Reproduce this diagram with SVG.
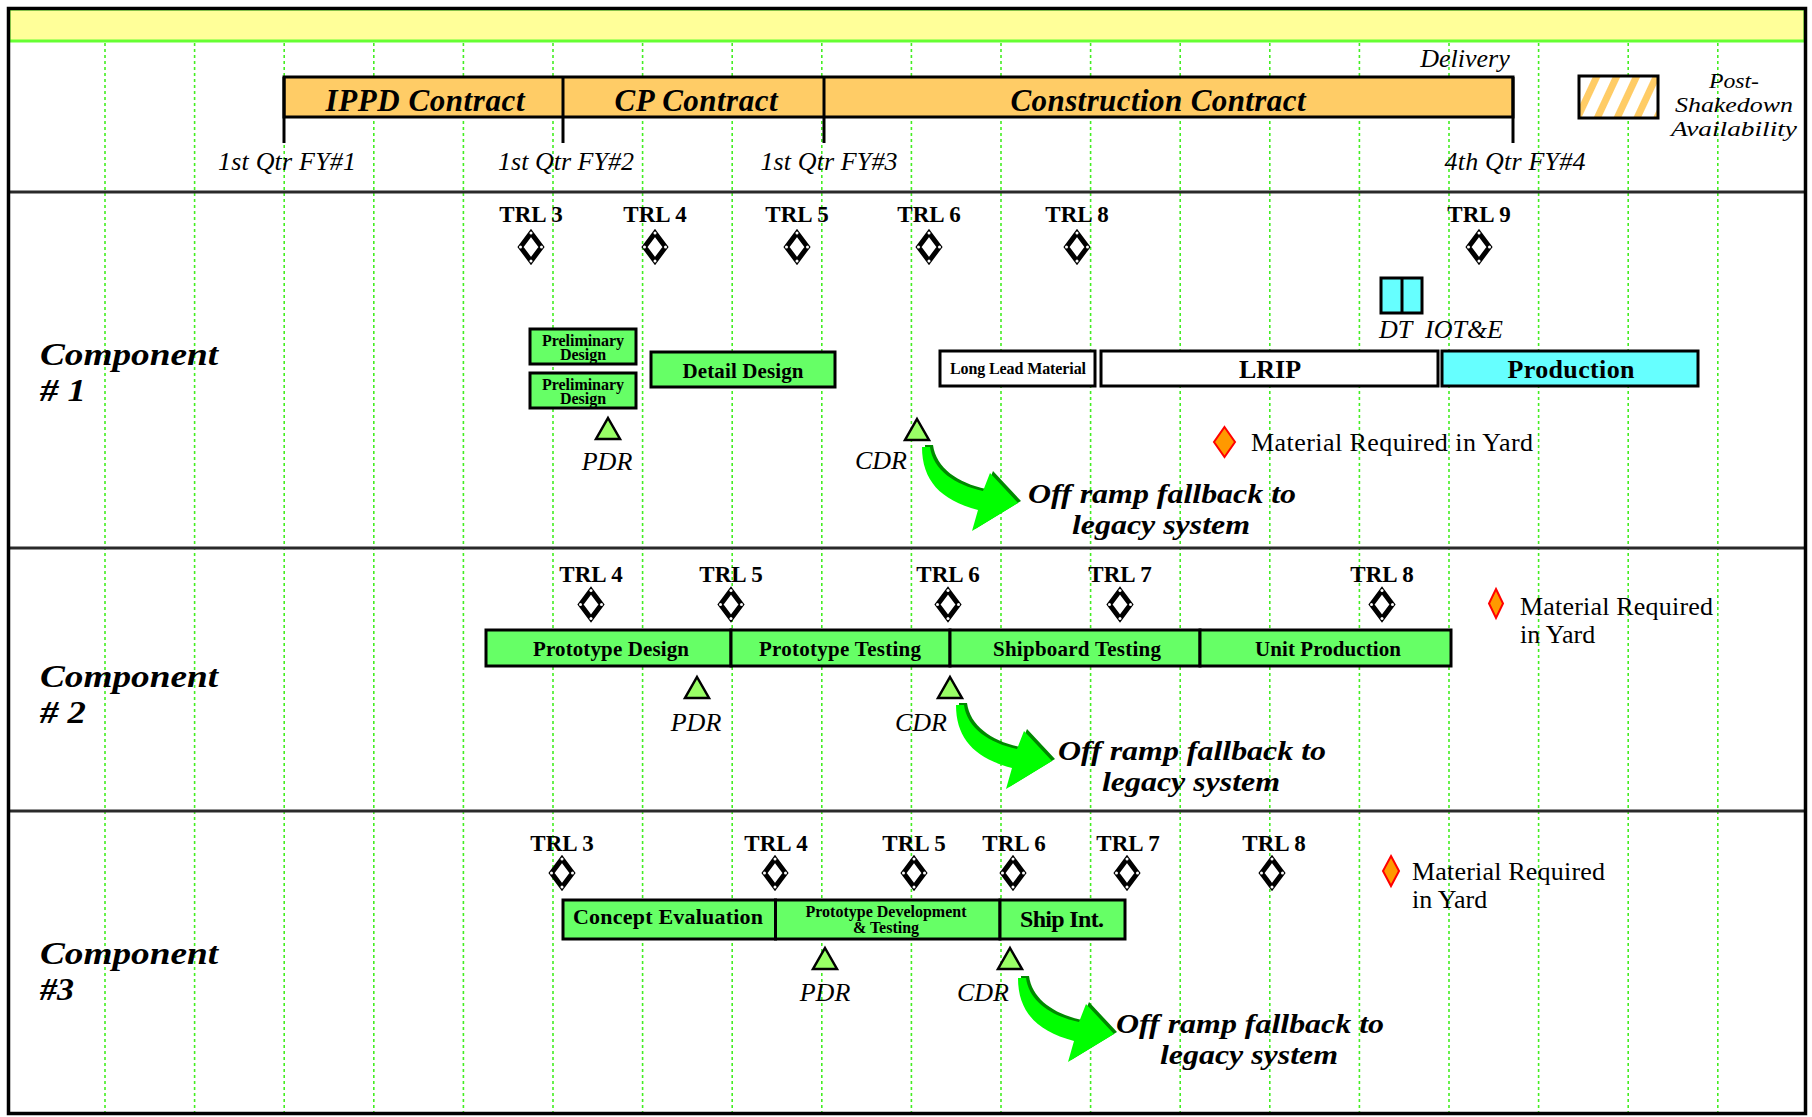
<svg xmlns="http://www.w3.org/2000/svg" xmlns:xlink="http://www.w3.org/1999/xlink" width="1812" height="1117" viewBox="0 0 1812 1117">
<style>
text{font-family:"Liberation Serif","Times New Roman",serif;fill:#000}
.grid{stroke:#44EE22;stroke-width:1.6;stroke-dasharray:3 3}
.div{stroke:#2a2a2a;stroke-width:3}
.tick{stroke:#000;stroke-width:3}
.con{font-weight:bold;font-style:italic;font-size:31px;text-anchor:middle}
.date{font-style:italic;font-size:26px;text-anchor:middle}
.comp{font-weight:bold;font-style:italic;font-size:32.5px}
.trl{font-weight:bold;font-size:23px;text-anchor:middle}
.rev{font-style:italic;font-size:26px;text-anchor:middle}
.off{font-weight:bold;font-style:italic;font-size:28px;text-anchor:middle}
.mat{font-size:26px}
.box{stroke:#000;stroke-width:3}
.g{fill:#66FF66}
.w{fill:#fff}
.c{fill:#66FFFF}
.bt{font-weight:bold;text-anchor:middle}
.tri{fill:#99FF66;stroke:#000;stroke-width:2.5;stroke-linejoin:miter}
.md{fill:#FF9900;stroke:#FF0000;stroke-width:2}
.leg{font-style:italic;font-size:22px;text-anchor:middle}
</style>
<defs>
<g id="dia">
<polygon points="0,-14 10.5,0 0,14 -10.5,0" fill="#fff" stroke="#000" stroke-width="5"/>
<circle cx="0" cy="-14" r="1.5" fill="#fff"/>
<circle cx="10.5" cy="0" r="1.5" fill="#fff"/>
<circle cx="0" cy="14" r="1.5" fill="#fff"/>
<circle cx="-10.5" cy="0" r="1.5" fill="#fff"/>
</g>
<polygon id="tri" class="tri" points="0,0 12,21 -12,21"/>
<path id="arrowShape" d="M 0,0 C 0,33 18,53 56,63 L 50,84 L 96,56 L 68,26 L 61,44 C 33,38 11,23 8,0 Z"/>
<g id="arrow">
<use xlink:href="#arrowShape" href="#arrowShape" transform="translate(3,-2)" fill="#008800"/>
<use xlink:href="#arrowShape" href="#arrowShape" fill="#00FF00"/>
</g>
<pattern id="hatch" patternUnits="userSpaceOnUse" width="18" height="18" patternTransform="rotate(25)">
<rect width="18" height="18" fill="#fff"/>
<rect width="7" height="18" fill="#FFCC66"/>
</pattern>
</defs>

<rect x="0" y="0" width="1812" height="1117" fill="#fff"/>

<g id="background">
<rect x="9" y="9" width="1796" height="32" fill="#FFFF99" stroke="#66FF33" stroke-width="3"/>
<g id="gridlines">
<line class="grid" x1="105" y1="43" x2="105" y2="1112"/>
<line class="grid" x1="194.6" y1="43" x2="194.6" y2="1112"/>
<line class="grid" x1="284.2" y1="43" x2="284.2" y2="1112"/>
<line class="grid" x1="373.8" y1="43" x2="373.8" y2="1112"/>
<line class="grid" x1="463.4" y1="43" x2="463.4" y2="1112"/>
<line class="grid" x1="553" y1="43" x2="553" y2="1112"/>
<line class="grid" x1="642.6" y1="43" x2="642.6" y2="1112"/>
<line class="grid" x1="732.2" y1="43" x2="732.2" y2="1112"/>
<line class="grid" x1="821.8" y1="43" x2="821.8" y2="1112"/>
<line class="grid" x1="911.4" y1="43" x2="911.4" y2="1112"/>
<line class="grid" x1="1001" y1="43" x2="1001" y2="1112"/>
<line class="grid" x1="1090.6" y1="43" x2="1090.6" y2="1112"/>
<line class="grid" x1="1180.2" y1="43" x2="1180.2" y2="1112"/>
<line class="grid" x1="1269.8" y1="43" x2="1269.8" y2="1112"/>
<line class="grid" x1="1359.4" y1="43" x2="1359.4" y2="1112"/>
<line class="grid" x1="1449" y1="43" x2="1449" y2="1112"/>
<line class="grid" x1="1538.6" y1="43" x2="1538.6" y2="1112"/>
<line class="grid" x1="1628.2" y1="43" x2="1628.2" y2="1112"/>
<line class="grid" x1="1717.8" y1="43" x2="1717.8" y2="1112"/>
</g>
<line class="div" x1="9" y1="192" x2="1805" y2="192"/>
<line class="div" x1="9" y1="548" x2="1805" y2="548"/>
<line class="div" x1="9" y1="811" x2="1805" y2="811"/>
</g>

<g id="header">
<g id="contract-bar">
<rect x="284" y="77" width="1229" height="40" fill="#FFCC66" stroke="#000" stroke-width="3"/>
<line class="tick" x1="284" y1="77" x2="284" y2="143"/>
<line class="tick" x1="563" y1="77" x2="563" y2="143"/>
<line class="tick" x1="824" y1="77" x2="824" y2="143"/>
<line class="tick" x1="1513" y1="77" x2="1513" y2="143"/>
<text class="con" x="425" y="111" textLength="199">IPPD Contract</text>
<text class="con" x="696" y="111" textLength="163">CP Contract</text>
<text class="con" x="1158" y="111" textLength="295">Construction Contract</text>
</g>
<text class="date" x="1465" y="67">Delivery</text>
<text class="date" x="287" y="170" textLength="138">1st Qtr FY#1</text>
<text class="date" x="566" y="170" textLength="136">1st Qtr FY#2</text>
<text class="date" x="829" y="170" textLength="137">1st Qtr FY#3</text>
<text class="date" x="1515" y="170" textLength="141">4th Qtr FY#4</text>
<g id="legend-post-shakedown">
<rect x="1579" y="76" width="79" height="42" fill="url(#hatch)" stroke="#000" stroke-width="3"/>
<text class="leg" x="1734" y="88" textLength="50" lengthAdjust="spacingAndGlyphs">Post-</text>
<text class="leg" x="1734" y="112" textLength="118" lengthAdjust="spacingAndGlyphs">Shakedown</text>
<text class="leg" x="1734" y="136" textLength="126" lengthAdjust="spacingAndGlyphs">Availability</text>
</g>
</g>

<g id="component1">
<text class="comp" x="40" y="365" textLength="178" lengthAdjust="spacingAndGlyphs">Component</text>
<text class="comp" x="40" y="401" textLength="46" lengthAdjust="spacingAndGlyphs"># 1</text>
<g id="c1-trl">
<text class="trl" x="531" y="222">TRL 3</text><use href="#dia" xlink:href="#dia" x="531" y="247"/>
<text class="trl" x="655" y="222">TRL 4</text><use href="#dia" xlink:href="#dia" x="655" y="247"/>
<text class="trl" x="797" y="222">TRL 5</text><use href="#dia" xlink:href="#dia" x="797" y="247"/>
<text class="trl" x="929" y="222">TRL 6</text><use href="#dia" xlink:href="#dia" x="929" y="247"/>
<text class="trl" x="1077" y="222">TRL 8</text><use href="#dia" xlink:href="#dia" x="1077" y="247"/>
<text class="trl" x="1479" y="222">TRL 9</text><use href="#dia" xlink:href="#dia" x="1479" y="247"/>
</g>
<g id="c1-prelim1">
<rect class="box g" x="530" y="329" width="106" height="35"/>
<text class="bt" x="583" y="346" font-size="16" textLength="82">Preliminary</text>
<text class="bt" x="583" y="360" font-size="16">Design</text>
</g>
<g id="c1-prelim2">
<rect class="box g" x="530" y="373" width="106" height="35"/>
<text class="bt" x="583" y="390" font-size="16" textLength="82">Preliminary</text>
<text class="bt" x="583" y="404" font-size="16">Design</text>
</g>
<g id="c1-detail">
<rect class="box g" x="651" y="352" width="184" height="35"/>
<text class="bt" x="743" y="378" font-size="21" textLength="121">Detail Design</text>
</g>
<g id="c1-longlead">
<rect class="box w" x="940" y="351" width="155" height="35"/>
<text class="bt" x="1018" y="374" font-size="16" textLength="136">Long Lead Material</text>
</g>
<g id="c1-lrip">
<rect class="box w" x="1101" y="351" width="337" height="35"/>
<text class="bt" x="1270" y="378" font-size="26">LRIP</text>
</g>
<g id="c1-production">
<rect class="box c" x="1442" y="351" width="256" height="35"/>
<text class="bt" x="1571" y="378" font-size="26" textLength="127">Production</text>
</g>
<g id="c1-dt">
<rect class="box c" x="1381" y="278" width="41" height="35"/>
<line x1="1402" y1="278" x2="1402" y2="313" stroke="#000" stroke-width="3"/>
<text font-style="italic" font-size="26" y="338"><tspan x="1379">DT</tspan><tspan x="1425">IOT&amp;E</tspan></text>
</g>
<g id="c1-pdr"><use href="#tri" xlink:href="#tri" x="608" y="418"/><text class="rev" x="607" y="470">PDR</text></g>
<g id="c1-cdr"><use href="#tri" xlink:href="#tri" x="917" y="419"/><text class="rev" x="881" y="469">CDR</text></g>
<g id="c1-material">
<polygon class="md" points="1224.5,427 1235,442 1224.5,457 1214,442"/>
<text class="mat" x="1251" y="451" textLength="282">Material Required in Yard</text>
</g>
<g id="c1-offramp">
<text class="off" x="1162" y="503" textLength="268" lengthAdjust="spacingAndGlyphs">Off ramp fallback to</text>
<text class="off" x="1161" y="534" textLength="178" lengthAdjust="spacingAndGlyphs">legacy system</text>
</g>
</g>

<g id="component2">
<text class="comp" x="40" y="687" textLength="178" lengthAdjust="spacingAndGlyphs">Component</text>
<text class="comp" x="40" y="723" textLength="46" lengthAdjust="spacingAndGlyphs"># 2</text>
<g id="c2-trl">
<text class="trl" x="591" y="582">TRL 4</text><use href="#dia" xlink:href="#dia" x="591" y="604.5"/>
<text class="trl" x="731" y="582">TRL 5</text><use href="#dia" xlink:href="#dia" x="731" y="604.5"/>
<text class="trl" x="948" y="582">TRL 6</text><use href="#dia" xlink:href="#dia" x="948" y="604.5"/>
<text class="trl" x="1120" y="582">TRL 7</text><use href="#dia" xlink:href="#dia" x="1120" y="604.5"/>
<text class="trl" x="1382" y="582">TRL 8</text><use href="#dia" xlink:href="#dia" x="1382" y="604.5"/>
</g>
<g id="c2-proto-design"><rect class="box g" x="486" y="630" width="245" height="36"/><text class="bt" x="611" y="656" font-size="21" textLength="156">Prototype Design</text></g>
<g id="c2-proto-testing"><rect class="box g" x="731" y="630" width="219" height="36"/><text class="bt" x="840" y="656" font-size="21" textLength="162">Prototype Testing</text></g>
<g id="c2-shipboard"><rect class="box g" x="950" y="630" width="250" height="36"/><text class="bt" x="1077" y="656" font-size="21" textLength="168">Shipboard Testing</text></g>
<g id="c2-unit"><rect class="box g" x="1200" y="630" width="251" height="36"/><text class="bt" x="1328" y="656" font-size="21" textLength="146">Unit Production</text></g>
<g id="c2-pdr"><use href="#tri" xlink:href="#tri" x="697" y="677"/><text class="rev" x="696" y="731">PDR</text></g>
<g id="c2-cdr"><use href="#tri" xlink:href="#tri" x="950" y="677"/><text class="rev" x="921" y="731">CDR</text></g>
<g id="c2-material">
<polygon class="md" points="1496,589 1503,603.5 1496,618 1489,603.5"/>
<text class="mat" x="1520" y="615" textLength="193">Material Required</text>
<text class="mat" x="1520" y="643">in Yard</text>
</g>
<g id="c2-offramp">
<text class="off" x="1192" y="760" textLength="268" lengthAdjust="spacingAndGlyphs">Off ramp fallback to</text>
<text class="off" x="1191" y="791" textLength="178" lengthAdjust="spacingAndGlyphs">legacy system</text>
</g>
</g>

<g id="component3">
<text class="comp" x="40" y="964" textLength="178" lengthAdjust="spacingAndGlyphs">Component</text>
<text class="comp" x="40" y="1000" textLength="34" lengthAdjust="spacingAndGlyphs">#3</text>
<g id="c3-trl">
<text class="trl" x="562" y="851">TRL 3</text><use href="#dia" xlink:href="#dia" x="562" y="873"/>
<text class="trl" x="776" y="851">TRL 4</text><use href="#dia" xlink:href="#dia" x="775" y="873"/>
<text class="trl" x="914" y="851">TRL 5</text><use href="#dia" xlink:href="#dia" x="914" y="873"/>
<text class="trl" x="1014" y="851">TRL 6</text><use href="#dia" xlink:href="#dia" x="1013" y="873"/>
<text class="trl" x="1128" y="851">TRL 7</text><use href="#dia" xlink:href="#dia" x="1127" y="873"/>
<text class="trl" x="1274" y="851">TRL 8</text><use href="#dia" xlink:href="#dia" x="1272" y="873"/>
</g>
<g id="c3-concept"><rect class="box g" x="563" y="900" width="212.5" height="39"/><text class="bt" x="668" y="924" font-size="22" textLength="190">Concept Evaluation</text></g>
<g id="c3-protodev"><rect class="box g" x="775.5" y="900" width="224.5" height="39"/>
<text class="bt" x="886" y="917" font-size="16" textLength="161">Prototype Development</text>
<text class="bt" x="886" y="933" font-size="16">&amp; Testing</text></g>
<g id="c3-shipint"><rect class="box g" x="1000" y="900" width="125" height="39"/><text class="bt" x="1062" y="927" font-size="24" textLength="84">Ship Int.</text></g>
<g id="c3-pdr"><use href="#tri" xlink:href="#tri" x="825" y="948"/><text class="rev" x="825" y="1001">PDR</text></g>
<g id="c3-cdr"><use href="#tri" xlink:href="#tri" x="1010" y="948"/><text class="rev" x="983" y="1001">CDR</text></g>
<g id="c3-material">
<polygon class="md" points="1391,856 1399,871 1391,886 1383,871"/>
<text class="mat" x="1412" y="880" textLength="193">Material Required</text>
<text class="mat" x="1412" y="908">in Yard</text>
</g>
<g id="c3-offramp">
<text class="off" x="1250" y="1033" textLength="268" lengthAdjust="spacingAndGlyphs">Off ramp fallback to</text>
<text class="off" x="1249" y="1064" textLength="178" lengthAdjust="spacingAndGlyphs">legacy system</text>
</g>
</g>

<g id="connectors">
<use href="#arrow" xlink:href="#arrow" transform="translate(922,447)"/>
<use href="#arrow" xlink:href="#arrow" transform="translate(956,705)"/>
<use href="#arrow" xlink:href="#arrow" transform="translate(1018,978)"/>
</g>

<rect id="frame" x="8.5" y="8.5" width="1797" height="1105" fill="none" stroke="#000" stroke-width="3.5"/>
</svg>
